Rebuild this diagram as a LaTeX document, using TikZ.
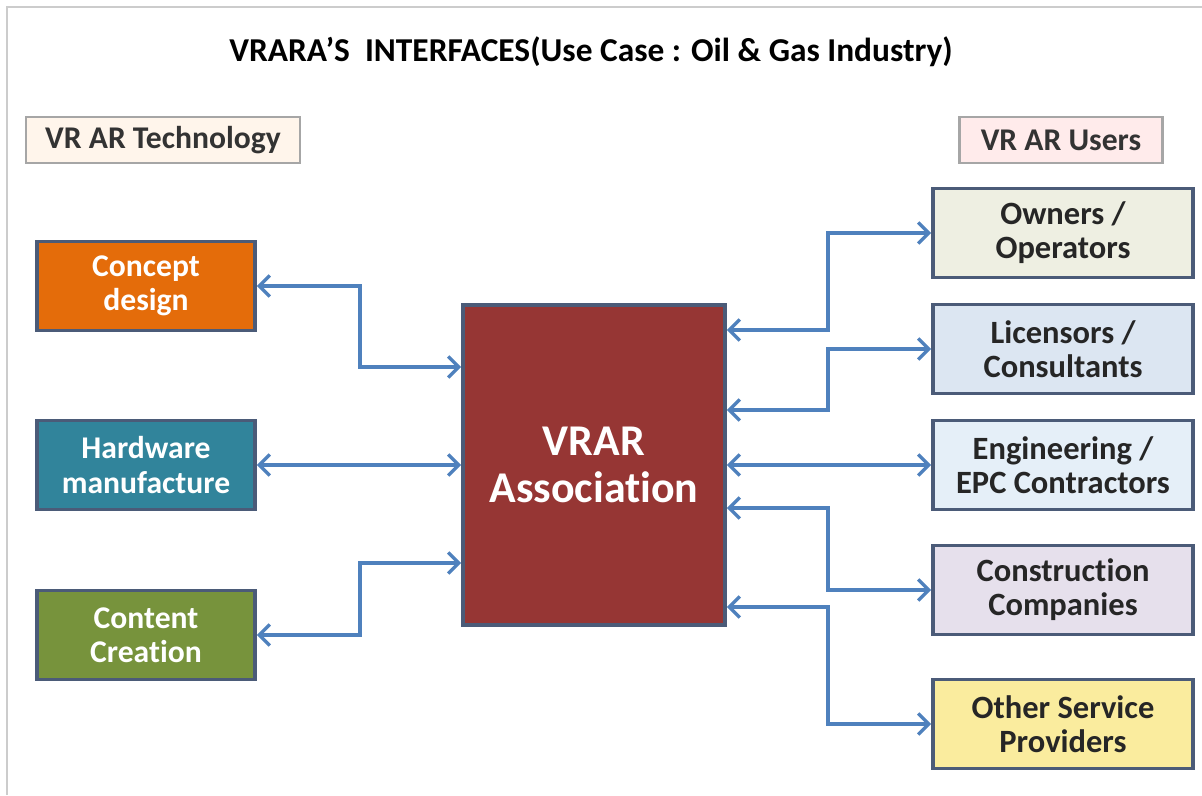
\documentclass[tikz,border=0pt]{standalone}
\usepackage{fontspec}
\setmainfont{Carlito}[Ligatures=NoCommon]
\usetikzlibrary{arrows.meta}

\definecolor{edgeblue}{HTML}{4F81BD}
\definecolor{boxline}{HTML}{4B5B78}
\definecolor{conceptorange}{HTML}{E46C0A}
\definecolor{hardwareteal}{HTML}{31849B}
\definecolor{contentgreen}{HTML}{77933C}
\definecolor{hubred}{HTML}{963634}
\definecolor{ownerfill}{HTML}{EEEFE2}
\definecolor{licensorfill}{HTML}{DCE6F2}
\definecolor{engfill}{HTML}{E5EFF8}
\definecolor{constrfill}{HTML}{E6E0EC}
\definecolor{otherfill}{HTML}{FAEC9E}

\begin{document}
\begin{tikzpicture}[
  x=0.02cm, y=-0.02cm,
  every node/.style={inner sep=1pt, align=center, font=\bfseries},
  labelbox/.style={draw=gray!70, line width=1.2pt, minimum height=0.92cm, font=\fontsize{18}{21}\selectfont\bfseries, text=black!80},
  techbox/.style={draw=boxline, line width=2.2pt, minimum width=4.36cm, minimum height=1.78cm, text=white, font=\fontsize{18}{19.5}\selectfont\bfseries},
  userbox/.style={draw=boxline, line width=2.2pt, minimum width=5.2cm, minimum height=1.78cm, text=black!85, font=\fontsize{18.5}{19.5}\selectfont\bfseries},
  hubbox/.style={draw=boxline, line width=2.2pt, fill=hubred, minimum width=5.24cm, minimum height=6.4cm, text=white, font=\fontsize{25}{27}\selectfont\bfseries},
  link/.style={draw=edgeblue, line width=1.9pt, {Straight Barb[length=6pt,width=12pt]}-{Straight Barb[length=6pt,width=12pt]}}
]
\useasboundingbox (0,0) rectangle (1202,795);
\draw[gray!40, line width=1.2pt] (7,795) -- (7,7) -- (1202,7);

\node (title) at (591,52) {\fontsize{19}{22}\selectfont\bfseries VRARA'S\ \ INTERFACES(Use Case : Oil \& Gas Industry)};

\node[labelbox, fill=orange!8, minimum width=5.48cm] (tech) at (163,140) {VR AR Technology};
\node[labelbox, fill=red!8, minimum width=4.06cm] (users) at (1061,140) {VR AR Users};

\node[techbox, fill=conceptorange] (concept) at (146,286) {Concept\\design};
\node[techbox, fill=hardwareteal] (hardware) at (146,465) {Hardware\\manufacture};
\node[techbox, fill=contentgreen] (content) at (146,635) {Content\\Creation};

\node[hubbox] (hub) at (594,465) {VRAR\\Association};

\node[userbox, fill=ownerfill] (owners) at (1063,233) {Owners /\\Operators};
\node[userbox, fill=licensorfill] (licensors) at (1063,349) {Licensors /\\Consultants};
\node[userbox, fill=engfill] (engineering) at (1063,465) {Engineering /\\EPC Contractors};
\node[userbox, fill=constrfill] (construction) at (1063,590) {Construction\\Companies};
\node[userbox, fill=otherfill] (other) at (1063,724) {Other Service\\Providers};

\draw[link] (concept.east) -- (360,286) |- (hub.west |- 0,367);
\draw[link] (hardware.east) -- (hub.west |- hardware.east);
\draw[link] (content.east) -- (360,635) |- (hub.west |- 0,563);

\draw[link] (hub.east |- 0,330) -- (828,330) |- (owners.west);
\draw[link] (hub.east |- 0,410) -- (828,410) |- (licensors.west);
\draw[link] (hub.east |- engineering.west) -- (engineering.west);
\draw[link] (hub.east |- 0,508) -- (828,508) |- (construction.west);
\draw[link] (hub.east |- 0,607) -- (828,607) |- (other.west);
\end{tikzpicture}
\end{document}
